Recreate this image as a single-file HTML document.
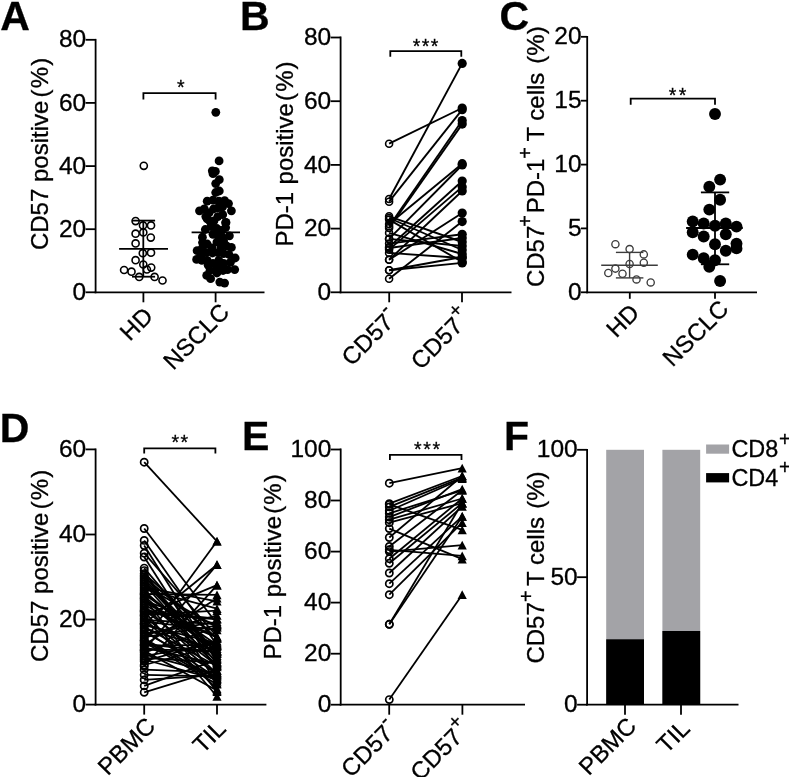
<!DOCTYPE html>
<html><head><meta charset="utf-8"><title>Figure</title>
<style>
html,body{margin:0;padding:0;background:#fff;}
svg{display:block;}
text{font-family:"Liberation Sans",sans-serif;fill:#000;stroke:#000;stroke-width:0.3px;}
</style></head><body>
<svg width="789" height="777" viewBox="0 0 789 777">
<rect width="789" height="777" fill="#fff"/>
<text x="0.2" y="29.9" font-size="41" text-anchor="start" font-weight="bold">A</text>
<text x="240.0" y="29.6" font-size="41" text-anchor="start" font-weight="bold">B</text>
<text x="499.5" y="29.9" font-size="41" text-anchor="start" font-weight="bold">C</text>
<text x="-0.2" y="442.4" font-size="41" text-anchor="start" font-weight="bold">D</text>
<text x="242.0" y="449.7" font-size="41" text-anchor="start" font-weight="bold">E</text>
<text x="504.1" y="449.7" font-size="41" text-anchor="start" font-weight="bold">F</text>
<line x1="95.6" y1="38.9" x2="95.6" y2="293.2" stroke="#000" stroke-width="1.8" stroke-linecap="butt"/>
<line x1="94.7" y1="292.3" x2="264.5" y2="292.3" stroke="#000" stroke-width="1.8" stroke-linecap="butt"/>
<line x1="85.6" y1="292.3" x2="95.6" y2="292.3" stroke="#000" stroke-width="1.8" stroke-linecap="butt"/>
<text x="86.2" y="299.9" font-size="24.5" text-anchor="end" font-weight="normal">0</text>
<line x1="85.6" y1="229.2" x2="95.6" y2="229.2" stroke="#000" stroke-width="1.8" stroke-linecap="butt"/>
<text x="86.2" y="236.7" font-size="24.5" text-anchor="end" font-weight="normal">20</text>
<line x1="85.6" y1="166.1" x2="95.6" y2="166.1" stroke="#000" stroke-width="1.8" stroke-linecap="butt"/>
<text x="86.2" y="173.6" font-size="24.5" text-anchor="end" font-weight="normal">40</text>
<line x1="85.6" y1="102.9" x2="95.6" y2="102.9" stroke="#000" stroke-width="1.8" stroke-linecap="butt"/>
<text x="86.2" y="110.5" font-size="24.5" text-anchor="end" font-weight="normal">60</text>
<line x1="85.6" y1="39.8" x2="95.6" y2="39.8" stroke="#000" stroke-width="1.8" stroke-linecap="butt"/>
<text x="86.2" y="47.4" font-size="24.5" text-anchor="end" font-weight="normal">80</text>
<line x1="143.4" y1="292.3" x2="143.4" y2="302.3" stroke="#000" stroke-width="1.8" stroke-linecap="butt"/>
<line x1="215.6" y1="292.3" x2="215.6" y2="302.3" stroke="#000" stroke-width="1.8" stroke-linecap="butt"/>
<text x="48.0" y="250.1" font-size="24" transform="rotate(-90 48.0 250.1)">CD57</text>
<text x="48.0" y="182.0" font-size="24" transform="rotate(-90 48.0 182.0)">positive</text>
<text x="48.0" y="97.4" font-size="24" transform="rotate(-90 48.0 97.4)" letter-spacing="1.1">(%)</text>
<polyline points="143.4,99.5 143.4,93.2 215.6,93.2 215.6,99.5" fill="none" stroke="#000" stroke-width="1.8"/>
<text x="180.7" y="93.5" font-size="19.5" text-anchor="middle" font-weight="normal" letter-spacing="0" stroke-width="0.5">*</text>
<text x="154.4" y="317.4" font-size="24" text-anchor="end" font-weight="normal" transform="rotate(-45 154.4 317.4)">HD</text>
<text x="230.8" y="313.4" font-size="24" text-anchor="end" font-weight="normal" transform="rotate(-45 230.8 313.4)">NSCLC</text>
<line x1="119.1" y1="248.9" x2="168.0" y2="248.9" stroke="#000" stroke-width="1.8" stroke-linecap="butt"/>
<line x1="143.3" y1="220.6" x2="143.3" y2="276.7" stroke="#000" stroke-width="1.8" stroke-linecap="butt"/>
<line x1="132.0" y1="220.6" x2="155.1" y2="220.6" stroke="#000" stroke-width="1.8" stroke-linecap="butt"/>
<line x1="132.0" y1="276.7" x2="155.1" y2="276.7" stroke="#000" stroke-width="1.8" stroke-linecap="butt"/>
<circle cx="143.8" cy="165.8" r="3.55" fill="none" stroke="#000" stroke-width="1.6"/>
<circle cx="135.6" cy="221.1" r="3.55" fill="none" stroke="#000" stroke-width="1.6"/>
<circle cx="143.0" cy="225.4" r="3.55" fill="none" stroke="#000" stroke-width="1.6"/>
<circle cx="151.0" cy="225.4" r="3.55" fill="none" stroke="#000" stroke-width="1.6"/>
<circle cx="135.6" cy="233.7" r="3.55" fill="none" stroke="#000" stroke-width="1.6"/>
<circle cx="143.3" cy="232.4" r="3.55" fill="none" stroke="#000" stroke-width="1.6"/>
<circle cx="150.8" cy="237.6" r="3.55" fill="none" stroke="#000" stroke-width="1.6"/>
<circle cx="135.6" cy="243.4" r="3.55" fill="none" stroke="#000" stroke-width="1.6"/>
<circle cx="142.8" cy="253.2" r="3.55" fill="none" stroke="#000" stroke-width="1.6"/>
<circle cx="151.0" cy="252.7" r="3.55" fill="none" stroke="#000" stroke-width="1.6"/>
<circle cx="135.6" cy="260.2" r="3.55" fill="none" stroke="#000" stroke-width="1.6"/>
<circle cx="143.3" cy="264.5" r="3.55" fill="none" stroke="#000" stroke-width="1.6"/>
<circle cx="151.2" cy="267.6" r="3.55" fill="none" stroke="#000" stroke-width="1.6"/>
<circle cx="146.9" cy="269.5" r="3.55" fill="none" stroke="#000" stroke-width="1.6"/>
<circle cx="124.1" cy="270.0" r="3.55" fill="none" stroke="#000" stroke-width="1.6"/>
<circle cx="131.5" cy="271.7" r="3.55" fill="none" stroke="#000" stroke-width="1.6"/>
<circle cx="139.2" cy="276.9" r="3.55" fill="none" stroke="#000" stroke-width="1.6"/>
<circle cx="154.6" cy="276.9" r="3.55" fill="none" stroke="#000" stroke-width="1.6"/>
<circle cx="162.5" cy="280.5" r="3.55" fill="none" stroke="#000" stroke-width="1.6"/>
<circle cx="215.8" cy="112.3" r="4.4" fill="#000" stroke="none" stroke-width="0"/>
<circle cx="219.1" cy="160.9" r="4.4" fill="#000" stroke="none" stroke-width="0"/>
<circle cx="212.3" cy="170.8" r="4.4" fill="#000" stroke="none" stroke-width="0"/>
<circle cx="215.4" cy="171.4" r="4.4" fill="#000" stroke="none" stroke-width="0"/>
<circle cx="213.0" cy="173.7" r="4.4" fill="#000" stroke="none" stroke-width="0"/>
<circle cx="219.3" cy="179.7" r="4.4" fill="#000" stroke="none" stroke-width="0"/>
<circle cx="215.7" cy="183.6" r="4.4" fill="#000" stroke="none" stroke-width="0"/>
<circle cx="219.3" cy="191.0" r="4.4" fill="#000" stroke="none" stroke-width="0"/>
<circle cx="215.7" cy="192.5" r="4.4" fill="#000" stroke="none" stroke-width="0"/>
<circle cx="207.2" cy="201.2" r="4.4" fill="#000" stroke="none" stroke-width="0"/>
<circle cx="213.0" cy="200.2" r="4.4" fill="#000" stroke="none" stroke-width="0"/>
<circle cx="218.8" cy="201.2" r="4.4" fill="#000" stroke="none" stroke-width="0"/>
<circle cx="224.6" cy="200.7" r="4.4" fill="#000" stroke="none" stroke-width="0"/>
<circle cx="228.5" cy="203.6" r="4.4" fill="#000" stroke="none" stroke-width="0"/>
<circle cx="231.4" cy="210.8" r="4.4" fill="#000" stroke="none" stroke-width="0"/>
<circle cx="199.5" cy="210.8" r="4.4" fill="#000" stroke="none" stroke-width="0"/>
<circle cx="204.3" cy="208.9" r="4.4" fill="#000" stroke="none" stroke-width="0"/>
<circle cx="217.8" cy="207.9" r="4.4" fill="#000" stroke="none" stroke-width="0"/>
<circle cx="205.8" cy="216.6" r="4.4" fill="#000" stroke="none" stroke-width="0"/>
<circle cx="222.7" cy="214.7" r="4.4" fill="#000" stroke="none" stroke-width="0"/>
<circle cx="217.8" cy="216.6" r="4.4" fill="#000" stroke="none" stroke-width="0"/>
<circle cx="210.1" cy="221.5" r="4.4" fill="#000" stroke="none" stroke-width="0"/>
<circle cx="226.0" cy="222.4" r="4.4" fill="#000" stroke="none" stroke-width="0"/>
<circle cx="225.6" cy="222.7" r="4.4" fill="#000" stroke="none" stroke-width="0"/>
<circle cx="214.0" cy="220.8" r="4.4" fill="#000" stroke="none" stroke-width="0"/>
<circle cx="207.2" cy="218.9" r="4.4" fill="#000" stroke="none" stroke-width="0"/>
<circle cx="205.3" cy="229.5" r="4.4" fill="#000" stroke="none" stroke-width="0"/>
<circle cx="211.1" cy="226.6" r="4.4" fill="#000" stroke="none" stroke-width="0"/>
<circle cx="216.9" cy="228.5" r="4.4" fill="#000" stroke="none" stroke-width="0"/>
<circle cx="225.6" cy="227.6" r="4.4" fill="#000" stroke="none" stroke-width="0"/>
<circle cx="202.4" cy="237.2" r="4.4" fill="#000" stroke="none" stroke-width="0"/>
<circle cx="229.4" cy="235.8" r="4.4" fill="#000" stroke="none" stroke-width="0"/>
<circle cx="218.8" cy="235.3" r="4.4" fill="#000" stroke="none" stroke-width="0"/>
<circle cx="213.0" cy="234.3" r="4.4" fill="#000" stroke="none" stroke-width="0"/>
<circle cx="223.6" cy="241.1" r="4.4" fill="#000" stroke="none" stroke-width="0"/>
<circle cx="216.9" cy="242.0" r="4.4" fill="#000" stroke="none" stroke-width="0"/>
<circle cx="207.2" cy="244.0" r="4.4" fill="#000" stroke="none" stroke-width="0"/>
<circle cx="231.4" cy="247.4" r="4.4" fill="#000" stroke="none" stroke-width="0"/>
<circle cx="226.5" cy="245.9" r="4.4" fill="#000" stroke="none" stroke-width="0"/>
<circle cx="197.1" cy="250.7" r="4.4" fill="#000" stroke="none" stroke-width="0"/>
<circle cx="202.4" cy="247.8" r="4.4" fill="#000" stroke="none" stroke-width="0"/>
<circle cx="212.0" cy="247.8" r="4.4" fill="#000" stroke="none" stroke-width="0"/>
<circle cx="217.8" cy="252.7" r="4.4" fill="#000" stroke="none" stroke-width="0"/>
<circle cx="223.6" cy="253.6" r="4.4" fill="#000" stroke="none" stroke-width="0"/>
<circle cx="206.2" cy="252.7" r="4.4" fill="#000" stroke="none" stroke-width="0"/>
<circle cx="196.6" cy="259.4" r="4.4" fill="#000" stroke="none" stroke-width="0"/>
<circle cx="201.9" cy="260.4" r="4.4" fill="#000" stroke="none" stroke-width="0"/>
<circle cx="207.2" cy="260.4" r="4.4" fill="#000" stroke="none" stroke-width="0"/>
<circle cx="235.2" cy="258.0" r="4.4" fill="#000" stroke="none" stroke-width="0"/>
<circle cx="230.4" cy="262.3" r="4.4" fill="#000" stroke="none" stroke-width="0"/>
<circle cx="218.8" cy="260.4" r="4.4" fill="#000" stroke="none" stroke-width="0"/>
<circle cx="223.6" cy="263.3" r="4.4" fill="#000" stroke="none" stroke-width="0"/>
<circle cx="213.0" cy="263.3" r="4.4" fill="#000" stroke="none" stroke-width="0"/>
<circle cx="208.2" cy="265.2" r="4.4" fill="#000" stroke="none" stroke-width="0"/>
<circle cx="216.9" cy="267.2" r="4.4" fill="#000" stroke="none" stroke-width="0"/>
<circle cx="227.5" cy="269.6" r="4.4" fill="#000" stroke="none" stroke-width="0"/>
<circle cx="234.7" cy="269.6" r="4.4" fill="#000" stroke="none" stroke-width="0"/>
<circle cx="216.9" cy="273.0" r="4.4" fill="#000" stroke="none" stroke-width="0"/>
<circle cx="206.7" cy="275.4" r="4.4" fill="#000" stroke="none" stroke-width="0"/>
<circle cx="210.6" cy="278.7" r="4.4" fill="#000" stroke="none" stroke-width="0"/>
<circle cx="219.8" cy="282.1" r="4.4" fill="#000" stroke="none" stroke-width="0"/>
<circle cx="224.6" cy="283.1" r="4.4" fill="#000" stroke="none" stroke-width="0"/>
<circle cx="209.0" cy="213.0" r="4.4" fill="#000" stroke="none" stroke-width="0"/>
<circle cx="222.0" cy="236.5" r="4.4" fill="#000" stroke="none" stroke-width="0"/>
<circle cx="221.0" cy="247.5" r="4.4" fill="#000" stroke="none" stroke-width="0"/>
<circle cx="229.0" cy="254.5" r="4.4" fill="#000" stroke="none" stroke-width="0"/>
<circle cx="202.5" cy="242.5" r="4.4" fill="#000" stroke="none" stroke-width="0"/>
<circle cx="212.5" cy="253.0" r="4.4" fill="#000" stroke="none" stroke-width="0"/>
<circle cx="221.0" cy="230.5" r="4.4" fill="#000" stroke="none" stroke-width="0"/>
<circle cx="213.5" cy="209.0" r="4.4" fill="#000" stroke="none" stroke-width="0"/>
<circle cx="222.5" cy="207.0" r="4.4" fill="#000" stroke="none" stroke-width="0"/>
<circle cx="201.0" cy="255.5" r="4.4" fill="#000" stroke="none" stroke-width="0"/>
<circle cx="210.0" cy="270.5" r="4.4" fill="#000" stroke="none" stroke-width="0"/>
<circle cx="223.0" cy="270.5" r="4.4" fill="#000" stroke="none" stroke-width="0"/>
<line x1="191.6" y1="232.4" x2="240.0" y2="232.4" stroke="#000" stroke-width="1.8" stroke-linecap="butt"/>
<line x1="340.6" y1="36.6" x2="340.6" y2="293.2" stroke="#000" stroke-width="1.8" stroke-linecap="butt"/>
<line x1="339.7" y1="292.3" x2="511.5" y2="292.3" stroke="#000" stroke-width="1.8" stroke-linecap="butt"/>
<line x1="330.6" y1="292.3" x2="340.6" y2="292.3" stroke="#000" stroke-width="1.8" stroke-linecap="butt"/>
<text x="331.2" y="299.9" font-size="24.5" text-anchor="end" font-weight="normal">0</text>
<line x1="330.6" y1="228.6" x2="340.6" y2="228.6" stroke="#000" stroke-width="1.8" stroke-linecap="butt"/>
<text x="331.2" y="236.2" font-size="24.5" text-anchor="end" font-weight="normal">20</text>
<line x1="330.6" y1="164.9" x2="340.6" y2="164.9" stroke="#000" stroke-width="1.8" stroke-linecap="butt"/>
<text x="331.2" y="172.5" font-size="24.5" text-anchor="end" font-weight="normal">40</text>
<line x1="330.6" y1="101.2" x2="340.6" y2="101.2" stroke="#000" stroke-width="1.8" stroke-linecap="butt"/>
<text x="331.2" y="108.8" font-size="24.5" text-anchor="end" font-weight="normal">60</text>
<line x1="330.6" y1="37.5" x2="340.6" y2="37.5" stroke="#000" stroke-width="1.8" stroke-linecap="butt"/>
<text x="331.2" y="45.0" font-size="24.5" text-anchor="end" font-weight="normal">80</text>
<line x1="389.2" y1="292.3" x2="389.2" y2="302.3" stroke="#000" stroke-width="1.8" stroke-linecap="butt"/>
<line x1="462.0" y1="292.3" x2="462.0" y2="302.3" stroke="#000" stroke-width="1.8" stroke-linecap="butt"/>
<text x="292.9" y="246.6" font-size="24" transform="rotate(-90 292.9 246.6)">PD-1</text>
<text x="292.9" y="184.4" font-size="24" transform="rotate(-90 292.9 184.4)">positive</text>
<text x="292.9" y="100.9" font-size="24" transform="rotate(-90 292.9 100.9)" letter-spacing="1.1">(%)</text>
<polyline points="390.3,56.8 390.3,51.2 461.3,51.2 461.3,56.8" fill="none" stroke="#000" stroke-width="1.8"/>
<text x="426.2" y="52.6" font-size="19.5" text-anchor="middle" font-weight="normal" letter-spacing="1.4" stroke-width="0.5">***</text>
<text x="399.5" y="319.0" font-size="24" text-anchor="end" font-weight="normal" transform="rotate(-45 399.5 319.0)">CD57<tspan font-size="20" dy="-11.6">-</tspan></text>
<text x="472.5" y="319.0" font-size="24" text-anchor="end" font-weight="normal" transform="rotate(-45 472.5 319.0)">CD57<tspan font-size="20" dy="-11.6">+</tspan></text>
<line x1="389.1" y1="143.7" x2="462.2" y2="108.0" stroke="#000" stroke-width="1.9" stroke-linecap="butt"/>
<line x1="389.1" y1="199.0" x2="462.2" y2="63.4" stroke="#000" stroke-width="1.9" stroke-linecap="butt"/>
<line x1="389.1" y1="201.7" x2="462.2" y2="109.7" stroke="#000" stroke-width="1.9" stroke-linecap="butt"/>
<line x1="389.1" y1="226.3" x2="462.2" y2="120.5" stroke="#000" stroke-width="1.9" stroke-linecap="butt"/>
<line x1="389.1" y1="228.0" x2="462.2" y2="124.1" stroke="#000" stroke-width="1.9" stroke-linecap="butt"/>
<line x1="389.1" y1="224.0" x2="462.2" y2="163.7" stroke="#000" stroke-width="1.9" stroke-linecap="butt"/>
<line x1="389.1" y1="238.9" x2="462.2" y2="165.0" stroke="#000" stroke-width="1.9" stroke-linecap="butt"/>
<line x1="389.1" y1="247.0" x2="462.2" y2="181.0" stroke="#000" stroke-width="1.9" stroke-linecap="butt"/>
<line x1="389.1" y1="249.6" x2="462.2" y2="186.9" stroke="#000" stroke-width="1.9" stroke-linecap="butt"/>
<line x1="389.1" y1="259.8" x2="462.2" y2="191.0" stroke="#000" stroke-width="1.9" stroke-linecap="butt"/>
<line x1="389.1" y1="259.8" x2="462.2" y2="213.0" stroke="#000" stroke-width="1.9" stroke-linecap="butt"/>
<line x1="389.1" y1="278.8" x2="462.2" y2="221.6" stroke="#000" stroke-width="1.9" stroke-linecap="butt"/>
<line x1="389.1" y1="243.6" x2="462.2" y2="234.3" stroke="#000" stroke-width="1.9" stroke-linecap="butt"/>
<line x1="389.1" y1="248.0" x2="462.2" y2="238.0" stroke="#000" stroke-width="1.9" stroke-linecap="butt"/>
<line x1="389.1" y1="216.3" x2="462.2" y2="242.0" stroke="#000" stroke-width="1.9" stroke-linecap="butt"/>
<line x1="389.1" y1="238.9" x2="462.2" y2="246.0" stroke="#000" stroke-width="1.9" stroke-linecap="butt"/>
<line x1="389.1" y1="218.0" x2="462.2" y2="250.0" stroke="#000" stroke-width="1.9" stroke-linecap="butt"/>
<line x1="389.1" y1="232.9" x2="462.2" y2="254.0" stroke="#000" stroke-width="1.9" stroke-linecap="butt"/>
<line x1="389.1" y1="252.9" x2="462.2" y2="258.0" stroke="#000" stroke-width="1.9" stroke-linecap="butt"/>
<line x1="389.1" y1="219.6" x2="462.2" y2="262.0" stroke="#000" stroke-width="1.9" stroke-linecap="butt"/>
<line x1="389.1" y1="270.2" x2="462.2" y2="262.9" stroke="#000" stroke-width="1.9" stroke-linecap="butt"/>
<line x1="389.1" y1="270.2" x2="462.2" y2="257.0" stroke="#000" stroke-width="1.9" stroke-linecap="butt"/>
<circle cx="389.1" cy="143.7" r="3.5" fill="none" stroke="#000" stroke-width="1.6"/>
<circle cx="389.1" cy="199.0" r="3.5" fill="none" stroke="#000" stroke-width="1.6"/>
<circle cx="389.1" cy="201.7" r="3.5" fill="none" stroke="#000" stroke-width="1.6"/>
<circle cx="389.1" cy="226.3" r="3.5" fill="none" stroke="#000" stroke-width="1.6"/>
<circle cx="389.1" cy="228.0" r="3.5" fill="none" stroke="#000" stroke-width="1.6"/>
<circle cx="389.1" cy="224.0" r="3.5" fill="none" stroke="#000" stroke-width="1.6"/>
<circle cx="389.1" cy="238.9" r="3.5" fill="none" stroke="#000" stroke-width="1.6"/>
<circle cx="389.1" cy="247.0" r="3.5" fill="none" stroke="#000" stroke-width="1.6"/>
<circle cx="389.1" cy="249.6" r="3.5" fill="none" stroke="#000" stroke-width="1.6"/>
<circle cx="389.1" cy="259.8" r="3.5" fill="none" stroke="#000" stroke-width="1.6"/>
<circle cx="389.1" cy="259.8" r="3.5" fill="none" stroke="#000" stroke-width="1.6"/>
<circle cx="389.1" cy="278.8" r="3.5" fill="none" stroke="#000" stroke-width="1.6"/>
<circle cx="389.1" cy="243.6" r="3.5" fill="none" stroke="#000" stroke-width="1.6"/>
<circle cx="389.1" cy="248.0" r="3.5" fill="none" stroke="#000" stroke-width="1.6"/>
<circle cx="389.1" cy="216.3" r="3.5" fill="none" stroke="#000" stroke-width="1.6"/>
<circle cx="389.1" cy="238.9" r="3.5" fill="none" stroke="#000" stroke-width="1.6"/>
<circle cx="389.1" cy="218.0" r="3.5" fill="none" stroke="#000" stroke-width="1.6"/>
<circle cx="389.1" cy="232.9" r="3.5" fill="none" stroke="#000" stroke-width="1.6"/>
<circle cx="389.1" cy="252.9" r="3.5" fill="none" stroke="#000" stroke-width="1.6"/>
<circle cx="389.1" cy="219.6" r="3.5" fill="none" stroke="#000" stroke-width="1.6"/>
<circle cx="389.1" cy="270.2" r="3.5" fill="none" stroke="#000" stroke-width="1.6"/>
<circle cx="389.1" cy="270.2" r="3.5" fill="none" stroke="#000" stroke-width="1.6"/>
<circle cx="462.2" cy="108.0" r="4.6" fill="#000" stroke="none" stroke-width="0"/>
<circle cx="462.2" cy="63.4" r="4.6" fill="#000" stroke="none" stroke-width="0"/>
<circle cx="462.2" cy="109.7" r="4.6" fill="#000" stroke="none" stroke-width="0"/>
<circle cx="462.2" cy="120.5" r="4.6" fill="#000" stroke="none" stroke-width="0"/>
<circle cx="462.2" cy="124.1" r="4.6" fill="#000" stroke="none" stroke-width="0"/>
<circle cx="462.2" cy="163.7" r="4.6" fill="#000" stroke="none" stroke-width="0"/>
<circle cx="462.2" cy="165.0" r="4.6" fill="#000" stroke="none" stroke-width="0"/>
<circle cx="462.2" cy="181.0" r="4.6" fill="#000" stroke="none" stroke-width="0"/>
<circle cx="462.2" cy="186.9" r="4.6" fill="#000" stroke="none" stroke-width="0"/>
<circle cx="462.2" cy="191.0" r="4.6" fill="#000" stroke="none" stroke-width="0"/>
<circle cx="462.2" cy="213.0" r="4.6" fill="#000" stroke="none" stroke-width="0"/>
<circle cx="462.2" cy="221.6" r="4.6" fill="#000" stroke="none" stroke-width="0"/>
<circle cx="462.2" cy="234.3" r="4.6" fill="#000" stroke="none" stroke-width="0"/>
<circle cx="462.2" cy="238.0" r="4.6" fill="#000" stroke="none" stroke-width="0"/>
<circle cx="462.2" cy="242.0" r="4.6" fill="#000" stroke="none" stroke-width="0"/>
<circle cx="462.2" cy="246.0" r="4.6" fill="#000" stroke="none" stroke-width="0"/>
<circle cx="462.2" cy="250.0" r="4.6" fill="#000" stroke="none" stroke-width="0"/>
<circle cx="462.2" cy="254.0" r="4.6" fill="#000" stroke="none" stroke-width="0"/>
<circle cx="462.2" cy="258.0" r="4.6" fill="#000" stroke="none" stroke-width="0"/>
<circle cx="462.2" cy="262.0" r="4.6" fill="#000" stroke="none" stroke-width="0"/>
<circle cx="462.2" cy="262.9" r="4.6" fill="#000" stroke="none" stroke-width="0"/>
<circle cx="462.2" cy="257.0" r="4.6" fill="#000" stroke="none" stroke-width="0"/>
<line x1="587.2" y1="35.9" x2="587.2" y2="293.2" stroke="#000" stroke-width="1.8" stroke-linecap="butt"/>
<line x1="586.3" y1="292.3" x2="757.0" y2="292.3" stroke="#000" stroke-width="1.8" stroke-linecap="butt"/>
<line x1="581.0" y1="292.3" x2="587.2" y2="292.3" stroke="#000" stroke-width="1.8" stroke-linecap="butt"/>
<text x="581.6" y="299.9" font-size="24.5" text-anchor="end" font-weight="normal">0</text>
<line x1="581.0" y1="228.4" x2="587.2" y2="228.4" stroke="#000" stroke-width="1.8" stroke-linecap="butt"/>
<text x="581.6" y="236.0" font-size="24.5" text-anchor="end" font-weight="normal">5</text>
<line x1="581.0" y1="164.6" x2="587.2" y2="164.6" stroke="#000" stroke-width="1.8" stroke-linecap="butt"/>
<text x="581.6" y="172.1" font-size="24.5" text-anchor="end" font-weight="normal">10</text>
<line x1="581.0" y1="100.7" x2="587.2" y2="100.7" stroke="#000" stroke-width="1.8" stroke-linecap="butt"/>
<text x="581.6" y="108.2" font-size="24.5" text-anchor="end" font-weight="normal">15</text>
<line x1="581.0" y1="36.8" x2="587.2" y2="36.8" stroke="#000" stroke-width="1.8" stroke-linecap="butt"/>
<text x="581.6" y="44.4" font-size="24.5" text-anchor="end" font-weight="normal">20</text>
<line x1="629.8" y1="292.3" x2="629.8" y2="298.8" stroke="#000" stroke-width="1.8" stroke-linecap="butt"/>
<line x1="715.0" y1="292.3" x2="715.0" y2="298.8" stroke="#000" stroke-width="1.8" stroke-linecap="butt"/>
<text x="543.8" y="287.1" font-size="24" transform="rotate(-90 543.8 287.1)">CD57</text>
<text x="543.8" y="213.3" font-size="24" transform="rotate(-90 543.8 213.3)">PD-1</text>
<text x="543.8" y="141.6" font-size="24" transform="rotate(-90 543.8 141.6)">T cells</text>
<text x="543.8" y="63.7" font-size="24" transform="rotate(-90 543.8 63.7)">(%)</text>
<text x="532.2" y="226.7" font-size="20" transform="rotate(-90 532.2 226.7)">+</text>
<text x="532.2" y="158.7" font-size="20" transform="rotate(-90 532.2 158.7)">+</text>
<polyline points="630.7,104.8 630.7,98.7 715.0,98.7 715.0,104.8" fill="none" stroke="#000" stroke-width="1.8"/>
<text x="678.7" y="102.4" font-size="19.5" text-anchor="middle" font-weight="normal" letter-spacing="2.4" stroke-width="0.5">**</text>
<text x="640.7" y="314.2" font-size="24" text-anchor="end" font-weight="normal" transform="rotate(-45 640.7 314.2)">HD</text>
<text x="730.1" y="310.2" font-size="24" text-anchor="end" font-weight="normal" transform="rotate(-45 730.1 310.2)">NSCLC</text>
<line x1="601.2" y1="265.2" x2="657.8" y2="265.2" stroke="#3c3c3c" stroke-width="1.4" stroke-linecap="butt"/>
<line x1="629.6" y1="252.4" x2="629.6" y2="277.9" stroke="#3c3c3c" stroke-width="1.4" stroke-linecap="butt"/>
<line x1="615.9" y1="252.4" x2="643.4" y2="252.4" stroke="#3c3c3c" stroke-width="1.4" stroke-linecap="butt"/>
<line x1="615.9" y1="277.9" x2="643.4" y2="277.9" stroke="#3c3c3c" stroke-width="1.4" stroke-linecap="butt"/>
<circle cx="615.4" cy="244.2" r="3.6" fill="none" stroke="#3c3c3c" stroke-width="1.35"/>
<circle cx="629.6" cy="249.1" r="3.6" fill="none" stroke="#3c3c3c" stroke-width="1.35"/>
<circle cx="643.8" cy="254.4" r="3.6" fill="none" stroke="#3c3c3c" stroke-width="1.35"/>
<circle cx="643.8" cy="262.8" r="3.6" fill="none" stroke="#3c3c3c" stroke-width="1.35"/>
<circle cx="629.6" cy="264.0" r="3.6" fill="none" stroke="#3c3c3c" stroke-width="1.35"/>
<circle cx="615.4" cy="268.6" r="3.6" fill="none" stroke="#3c3c3c" stroke-width="1.35"/>
<circle cx="608.3" cy="273.0" r="3.6" fill="none" stroke="#3c3c3c" stroke-width="1.35"/>
<circle cx="622.5" cy="273.7" r="3.6" fill="none" stroke="#3c3c3c" stroke-width="1.35"/>
<circle cx="636.5" cy="279.4" r="3.6" fill="none" stroke="#3c3c3c" stroke-width="1.35"/>
<circle cx="650.7" cy="282.4" r="3.6" fill="none" stroke="#3c3c3c" stroke-width="1.35"/>
<circle cx="715.0" cy="114.0" r="5.95" fill="#000" stroke="none" stroke-width="0"/>
<circle cx="720.1" cy="179.6" r="5.95" fill="#000" stroke="none" stroke-width="0"/>
<circle cx="709.3" cy="186.7" r="5.95" fill="#000" stroke="none" stroke-width="0"/>
<circle cx="720.1" cy="199.7" r="5.95" fill="#000" stroke="none" stroke-width="0"/>
<circle cx="709.3" cy="209.6" r="5.95" fill="#000" stroke="none" stroke-width="0"/>
<circle cx="692.7" cy="221.5" r="5.95" fill="#000" stroke="none" stroke-width="0"/>
<circle cx="703.7" cy="223.5" r="5.95" fill="#000" stroke="none" stroke-width="0"/>
<circle cx="715.0" cy="225.8" r="5.95" fill="#000" stroke="none" stroke-width="0"/>
<circle cx="725.8" cy="223.5" r="5.95" fill="#000" stroke="none" stroke-width="0"/>
<circle cx="736.5" cy="226.6" r="5.95" fill="#000" stroke="none" stroke-width="0"/>
<circle cx="692.7" cy="232.3" r="5.95" fill="#000" stroke="none" stroke-width="0"/>
<circle cx="703.7" cy="236.5" r="5.95" fill="#000" stroke="none" stroke-width="0"/>
<circle cx="725.8" cy="234.3" r="5.95" fill="#000" stroke="none" stroke-width="0"/>
<circle cx="715.0" cy="244.2" r="5.95" fill="#000" stroke="none" stroke-width="0"/>
<circle cx="736.5" cy="243.6" r="5.95" fill="#000" stroke="none" stroke-width="0"/>
<circle cx="736.5" cy="248.4" r="5.95" fill="#000" stroke="none" stroke-width="0"/>
<circle cx="725.8" cy="250.7" r="5.95" fill="#000" stroke="none" stroke-width="0"/>
<circle cx="692.7" cy="254.6" r="5.95" fill="#000" stroke="none" stroke-width="0"/>
<circle cx="703.7" cy="258.3" r="5.95" fill="#000" stroke="none" stroke-width="0"/>
<circle cx="715.0" cy="260.3" r="5.95" fill="#000" stroke="none" stroke-width="0"/>
<circle cx="709.3" cy="266.8" r="5.95" fill="#000" stroke="none" stroke-width="0"/>
<circle cx="720.1" cy="281.0" r="5.95" fill="#000" stroke="none" stroke-width="0"/>
<line x1="686.1" y1="228.0" x2="742.8" y2="228.0" stroke="#000" stroke-width="1.8" stroke-linecap="butt"/>
<line x1="715.0" y1="192.4" x2="715.0" y2="264.3" stroke="#000" stroke-width="1.8" stroke-linecap="butt"/>
<line x1="700.9" y1="192.4" x2="729.2" y2="192.4" stroke="#000" stroke-width="1.8" stroke-linecap="butt"/>
<line x1="700.9" y1="264.3" x2="729.2" y2="264.3" stroke="#000" stroke-width="1.8" stroke-linecap="butt"/>
<line x1="95.6" y1="448.5" x2="95.6" y2="705.5" stroke="#000" stroke-width="1.8" stroke-linecap="butt"/>
<line x1="94.7" y1="704.6" x2="266.4" y2="704.6" stroke="#000" stroke-width="1.8" stroke-linecap="butt"/>
<line x1="85.6" y1="704.6" x2="95.6" y2="704.6" stroke="#000" stroke-width="1.8" stroke-linecap="butt"/>
<text x="86.2" y="712.1" font-size="24.5" text-anchor="end" font-weight="normal">0</text>
<line x1="85.6" y1="619.5" x2="95.6" y2="619.5" stroke="#000" stroke-width="1.8" stroke-linecap="butt"/>
<text x="86.2" y="627.1" font-size="24.5" text-anchor="end" font-weight="normal">20</text>
<line x1="85.6" y1="534.5" x2="95.6" y2="534.5" stroke="#000" stroke-width="1.8" stroke-linecap="butt"/>
<text x="86.2" y="542.0" font-size="24.5" text-anchor="end" font-weight="normal">40</text>
<line x1="85.6" y1="449.4" x2="95.6" y2="449.4" stroke="#000" stroke-width="1.8" stroke-linecap="butt"/>
<text x="86.2" y="456.9" font-size="24.5" text-anchor="end" font-weight="normal">60</text>
<line x1="144.2" y1="704.6" x2="144.2" y2="714.6" stroke="#000" stroke-width="1.8" stroke-linecap="butt"/>
<line x1="217.0" y1="704.6" x2="217.0" y2="714.6" stroke="#000" stroke-width="1.8" stroke-linecap="butt"/>
<text x="47.8" y="662.0" font-size="24" transform="rotate(-90 47.8 662.0)">CD57</text>
<text x="47.8" y="593.9" font-size="24" transform="rotate(-90 47.8 593.9)">positive</text>
<text x="47.8" y="509.3" font-size="24" transform="rotate(-90 47.8 509.3)" letter-spacing="1.1">(%)</text>
<polyline points="144.2,453.6 144.2,448.4 215.4,448.4 215.4,453.6" fill="none" stroke="#000" stroke-width="1.8"/>
<text x="180.4" y="448.8" font-size="19.5" text-anchor="middle" font-weight="normal" letter-spacing="1.4" stroke-width="0.5">**</text>
<text x="156.8" y="727.4" font-size="24" text-anchor="end" font-weight="normal" transform="rotate(-45 156.8 727.4)">PBMC</text>
<text x="227.2" y="730.0" font-size="24" text-anchor="end" font-weight="normal" transform="rotate(-45 227.2 730.0)">TIL</text>
<line x1="144.2" y1="462.2" x2="217.0" y2="541.3" stroke="#000" stroke-width="1.8" stroke-linecap="butt"/>
<line x1="144.2" y1="528.5" x2="217.0" y2="623.8" stroke="#000" stroke-width="1.8" stroke-linecap="butt"/>
<line x1="144.2" y1="540.4" x2="217.0" y2="645.1" stroke="#000" stroke-width="1.8" stroke-linecap="butt"/>
<line x1="144.2" y1="545.5" x2="217.0" y2="662.1" stroke="#000" stroke-width="1.8" stroke-linecap="butt"/>
<line x1="144.2" y1="553.2" x2="217.0" y2="636.5" stroke="#000" stroke-width="1.8" stroke-linecap="butt"/>
<line x1="144.2" y1="557.0" x2="217.0" y2="670.6" stroke="#000" stroke-width="1.8" stroke-linecap="butt"/>
<line x1="144.2" y1="568.1" x2="217.0" y2="653.6" stroke="#000" stroke-width="1.8" stroke-linecap="butt"/>
<line x1="144.2" y1="570.6" x2="217.0" y2="683.3" stroke="#000" stroke-width="1.8" stroke-linecap="butt"/>
<line x1="144.2" y1="640.8" x2="217.0" y2="541.3" stroke="#000" stroke-width="1.8" stroke-linecap="butt"/>
<line x1="144.2" y1="623.8" x2="217.0" y2="564.7" stroke="#000" stroke-width="1.8" stroke-linecap="butt"/>
<line x1="144.2" y1="650.2" x2="217.0" y2="564.7" stroke="#000" stroke-width="1.8" stroke-linecap="butt"/>
<line x1="144.2" y1="615.3" x2="217.0" y2="585.1" stroke="#000" stroke-width="1.8" stroke-linecap="butt"/>
<line x1="144.2" y1="666.3" x2="217.0" y2="585.1" stroke="#000" stroke-width="1.8" stroke-linecap="butt"/>
<line x1="144.2" y1="594.0" x2="217.0" y2="594.9" stroke="#000" stroke-width="1.8" stroke-linecap="butt"/>
<line x1="144.2" y1="645.1" x2="217.0" y2="598.3" stroke="#000" stroke-width="1.8" stroke-linecap="butt"/>
<line x1="144.2" y1="692.3" x2="217.0" y2="670.1" stroke="#000" stroke-width="1.8" stroke-linecap="butt"/>
<line x1="144.2" y1="685.9" x2="217.0" y2="659.8" stroke="#000" stroke-width="1.8" stroke-linecap="butt"/>
<line x1="144.2" y1="679.9" x2="217.0" y2="675.1" stroke="#000" stroke-width="1.8" stroke-linecap="butt"/>
<line x1="144.2" y1="674.8" x2="217.0" y2="676.4" stroke="#000" stroke-width="1.8" stroke-linecap="butt"/>
<line x1="144.2" y1="669.7" x2="217.0" y2="672.4" stroke="#000" stroke-width="1.8" stroke-linecap="butt"/>
<line x1="144.2" y1="665.0" x2="217.0" y2="645.7" stroke="#000" stroke-width="1.8" stroke-linecap="butt"/>
<line x1="144.2" y1="661.2" x2="217.0" y2="641.2" stroke="#000" stroke-width="1.8" stroke-linecap="butt"/>
<line x1="144.2" y1="659.5" x2="217.0" y2="679.7" stroke="#000" stroke-width="1.8" stroke-linecap="butt"/>
<line x1="144.2" y1="657.8" x2="217.0" y2="662.7" stroke="#000" stroke-width="1.8" stroke-linecap="butt"/>
<line x1="144.2" y1="656.1" x2="217.0" y2="643.0" stroke="#000" stroke-width="1.8" stroke-linecap="butt"/>
<line x1="144.2" y1="654.3" x2="217.0" y2="674.1" stroke="#000" stroke-width="1.8" stroke-linecap="butt"/>
<line x1="144.2" y1="652.6" x2="217.0" y2="627.0" stroke="#000" stroke-width="1.8" stroke-linecap="butt"/>
<line x1="144.2" y1="650.9" x2="217.0" y2="690.5" stroke="#000" stroke-width="1.8" stroke-linecap="butt"/>
<line x1="144.2" y1="649.2" x2="217.0" y2="651.5" stroke="#000" stroke-width="1.8" stroke-linecap="butt"/>
<line x1="144.2" y1="647.5" x2="217.0" y2="664.2" stroke="#000" stroke-width="1.8" stroke-linecap="butt"/>
<line x1="144.2" y1="645.7" x2="217.0" y2="644.8" stroke="#000" stroke-width="1.8" stroke-linecap="butt"/>
<line x1="144.2" y1="644.0" x2="217.0" y2="652.2" stroke="#000" stroke-width="1.8" stroke-linecap="butt"/>
<line x1="144.2" y1="642.3" x2="217.0" y2="684.3" stroke="#000" stroke-width="1.8" stroke-linecap="butt"/>
<line x1="144.2" y1="640.6" x2="217.0" y2="681.1" stroke="#000" stroke-width="1.8" stroke-linecap="butt"/>
<line x1="144.2" y1="638.9" x2="217.0" y2="678.6" stroke="#000" stroke-width="1.8" stroke-linecap="butt"/>
<line x1="144.2" y1="637.2" x2="217.0" y2="625.7" stroke="#000" stroke-width="1.8" stroke-linecap="butt"/>
<line x1="144.2" y1="635.4" x2="217.0" y2="615.4" stroke="#000" stroke-width="1.8" stroke-linecap="butt"/>
<line x1="144.2" y1="633.7" x2="217.0" y2="621.9" stroke="#000" stroke-width="1.8" stroke-linecap="butt"/>
<line x1="144.2" y1="632.0" x2="217.0" y2="672.3" stroke="#000" stroke-width="1.8" stroke-linecap="butt"/>
<line x1="144.2" y1="630.3" x2="217.0" y2="678.0" stroke="#000" stroke-width="1.8" stroke-linecap="butt"/>
<line x1="144.2" y1="628.6" x2="217.0" y2="650.7" stroke="#000" stroke-width="1.8" stroke-linecap="butt"/>
<line x1="144.2" y1="626.9" x2="217.0" y2="666.3" stroke="#000" stroke-width="1.8" stroke-linecap="butt"/>
<line x1="144.2" y1="625.1" x2="217.0" y2="643.1" stroke="#000" stroke-width="1.8" stroke-linecap="butt"/>
<line x1="144.2" y1="623.4" x2="217.0" y2="651.1" stroke="#000" stroke-width="1.8" stroke-linecap="butt"/>
<line x1="144.2" y1="621.7" x2="217.0" y2="629.9" stroke="#000" stroke-width="1.8" stroke-linecap="butt"/>
<line x1="144.2" y1="620.0" x2="217.0" y2="624.2" stroke="#000" stroke-width="1.8" stroke-linecap="butt"/>
<line x1="144.2" y1="618.3" x2="217.0" y2="689.0" stroke="#000" stroke-width="1.8" stroke-linecap="butt"/>
<line x1="144.2" y1="616.5" x2="217.0" y2="675.0" stroke="#000" stroke-width="1.8" stroke-linecap="butt"/>
<line x1="144.2" y1="614.8" x2="217.0" y2="610.7" stroke="#000" stroke-width="1.8" stroke-linecap="butt"/>
<line x1="144.2" y1="613.1" x2="217.0" y2="619.4" stroke="#000" stroke-width="1.8" stroke-linecap="butt"/>
<line x1="144.2" y1="611.4" x2="217.0" y2="618.6" stroke="#000" stroke-width="1.8" stroke-linecap="butt"/>
<line x1="144.2" y1="609.7" x2="217.0" y2="665.5" stroke="#000" stroke-width="1.8" stroke-linecap="butt"/>
<line x1="144.2" y1="608.0" x2="217.0" y2="637.4" stroke="#000" stroke-width="1.8" stroke-linecap="butt"/>
<line x1="144.2" y1="606.2" x2="217.0" y2="673.6" stroke="#000" stroke-width="1.8" stroke-linecap="butt"/>
<line x1="144.2" y1="604.5" x2="217.0" y2="646.7" stroke="#000" stroke-width="1.8" stroke-linecap="butt"/>
<line x1="144.2" y1="602.8" x2="217.0" y2="637.1" stroke="#000" stroke-width="1.8" stroke-linecap="butt"/>
<line x1="144.2" y1="601.1" x2="217.0" y2="624.6" stroke="#000" stroke-width="1.8" stroke-linecap="butt"/>
<line x1="144.2" y1="599.4" x2="217.0" y2="650.9" stroke="#000" stroke-width="1.8" stroke-linecap="butt"/>
<line x1="144.2" y1="597.7" x2="217.0" y2="665.2" stroke="#000" stroke-width="1.8" stroke-linecap="butt"/>
<line x1="144.2" y1="595.9" x2="217.0" y2="661.6" stroke="#000" stroke-width="1.8" stroke-linecap="butt"/>
<line x1="144.2" y1="594.2" x2="217.0" y2="645.1" stroke="#000" stroke-width="1.8" stroke-linecap="butt"/>
<line x1="144.2" y1="592.5" x2="217.0" y2="648.6" stroke="#000" stroke-width="1.8" stroke-linecap="butt"/>
<line x1="144.2" y1="590.8" x2="217.0" y2="655.6" stroke="#000" stroke-width="1.8" stroke-linecap="butt"/>
<line x1="144.2" y1="589.1" x2="217.0" y2="608.7" stroke="#000" stroke-width="1.8" stroke-linecap="butt"/>
<line x1="144.2" y1="587.3" x2="217.0" y2="601.3" stroke="#000" stroke-width="1.8" stroke-linecap="butt"/>
<line x1="144.2" y1="585.6" x2="217.0" y2="627.2" stroke="#000" stroke-width="1.8" stroke-linecap="butt"/>
<line x1="144.2" y1="583.9" x2="217.0" y2="667.0" stroke="#000" stroke-width="1.8" stroke-linecap="butt"/>
<line x1="144.2" y1="582.2" x2="217.0" y2="658.7" stroke="#000" stroke-width="1.8" stroke-linecap="butt"/>
<line x1="144.2" y1="580.5" x2="217.0" y2="657.3" stroke="#000" stroke-width="1.8" stroke-linecap="butt"/>
<line x1="144.2" y1="578.8" x2="217.0" y2="653.1" stroke="#000" stroke-width="1.8" stroke-linecap="butt"/>
<line x1="144.2" y1="577.0" x2="217.0" y2="638.4" stroke="#000" stroke-width="1.8" stroke-linecap="butt"/>
<line x1="144.2" y1="575.3" x2="217.0" y2="663.8" stroke="#000" stroke-width="1.8" stroke-linecap="butt"/>
<line x1="144.2" y1="573.6" x2="217.0" y2="638.5" stroke="#000" stroke-width="1.8" stroke-linecap="butt"/>
<line x1="144.2" y1="611.0" x2="217.0" y2="696.5" stroke="#000" stroke-width="1.8" stroke-linecap="butt"/>
<line x1="144.2" y1="598.3" x2="217.0" y2="691.8" stroke="#000" stroke-width="1.8" stroke-linecap="butt"/>
<circle cx="144.2" cy="462.2" r="3.6" fill="none" stroke="#000" stroke-width="1.7"/>
<circle cx="144.2" cy="528.5" r="3.6" fill="none" stroke="#000" stroke-width="1.7"/>
<circle cx="144.2" cy="540.4" r="3.6" fill="none" stroke="#000" stroke-width="1.7"/>
<circle cx="144.2" cy="545.5" r="3.6" fill="none" stroke="#000" stroke-width="1.7"/>
<circle cx="144.2" cy="553.2" r="3.6" fill="none" stroke="#000" stroke-width="1.7"/>
<circle cx="144.2" cy="557.0" r="3.6" fill="none" stroke="#000" stroke-width="1.7"/>
<circle cx="144.2" cy="568.1" r="3.6" fill="none" stroke="#000" stroke-width="1.7"/>
<circle cx="144.2" cy="570.6" r="3.6" fill="none" stroke="#000" stroke-width="1.7"/>
<circle cx="144.2" cy="640.8" r="3.6" fill="none" stroke="#000" stroke-width="1.7"/>
<circle cx="144.2" cy="623.8" r="3.6" fill="none" stroke="#000" stroke-width="1.7"/>
<circle cx="144.2" cy="650.2" r="3.6" fill="none" stroke="#000" stroke-width="1.7"/>
<circle cx="144.2" cy="615.3" r="3.6" fill="none" stroke="#000" stroke-width="1.7"/>
<circle cx="144.2" cy="666.3" r="3.6" fill="none" stroke="#000" stroke-width="1.7"/>
<circle cx="144.2" cy="594.0" r="3.6" fill="none" stroke="#000" stroke-width="1.7"/>
<circle cx="144.2" cy="645.1" r="3.6" fill="none" stroke="#000" stroke-width="1.7"/>
<circle cx="144.2" cy="692.3" r="3.6" fill="none" stroke="#000" stroke-width="1.7"/>
<circle cx="144.2" cy="685.9" r="3.6" fill="none" stroke="#000" stroke-width="1.7"/>
<circle cx="144.2" cy="679.9" r="3.6" fill="none" stroke="#000" stroke-width="1.7"/>
<circle cx="144.2" cy="674.8" r="3.6" fill="none" stroke="#000" stroke-width="1.7"/>
<circle cx="144.2" cy="669.7" r="3.6" fill="none" stroke="#000" stroke-width="1.7"/>
<circle cx="144.2" cy="665.0" r="3.6" fill="none" stroke="#000" stroke-width="1.7"/>
<circle cx="144.2" cy="661.2" r="3.6" fill="none" stroke="#000" stroke-width="1.7"/>
<circle cx="144.2" cy="659.5" r="3.6" fill="none" stroke="#000" stroke-width="1.7"/>
<circle cx="144.2" cy="657.8" r="3.6" fill="none" stroke="#000" stroke-width="1.7"/>
<circle cx="144.2" cy="656.1" r="3.6" fill="none" stroke="#000" stroke-width="1.7"/>
<circle cx="144.2" cy="654.3" r="3.6" fill="none" stroke="#000" stroke-width="1.7"/>
<circle cx="144.2" cy="652.6" r="3.6" fill="none" stroke="#000" stroke-width="1.7"/>
<circle cx="144.2" cy="650.9" r="3.6" fill="none" stroke="#000" stroke-width="1.7"/>
<circle cx="144.2" cy="649.2" r="3.6" fill="none" stroke="#000" stroke-width="1.7"/>
<circle cx="144.2" cy="647.5" r="3.6" fill="none" stroke="#000" stroke-width="1.7"/>
<circle cx="144.2" cy="645.7" r="3.6" fill="none" stroke="#000" stroke-width="1.7"/>
<circle cx="144.2" cy="644.0" r="3.6" fill="none" stroke="#000" stroke-width="1.7"/>
<circle cx="144.2" cy="642.3" r="3.6" fill="none" stroke="#000" stroke-width="1.7"/>
<circle cx="144.2" cy="640.6" r="3.6" fill="none" stroke="#000" stroke-width="1.7"/>
<circle cx="144.2" cy="638.9" r="3.6" fill="none" stroke="#000" stroke-width="1.7"/>
<circle cx="144.2" cy="637.2" r="3.6" fill="none" stroke="#000" stroke-width="1.7"/>
<circle cx="144.2" cy="635.4" r="3.6" fill="none" stroke="#000" stroke-width="1.7"/>
<circle cx="144.2" cy="633.7" r="3.6" fill="none" stroke="#000" stroke-width="1.7"/>
<circle cx="144.2" cy="632.0" r="3.6" fill="none" stroke="#000" stroke-width="1.7"/>
<circle cx="144.2" cy="630.3" r="3.6" fill="none" stroke="#000" stroke-width="1.7"/>
<circle cx="144.2" cy="628.6" r="3.6" fill="none" stroke="#000" stroke-width="1.7"/>
<circle cx="144.2" cy="626.9" r="3.6" fill="none" stroke="#000" stroke-width="1.7"/>
<circle cx="144.2" cy="625.1" r="3.6" fill="none" stroke="#000" stroke-width="1.7"/>
<circle cx="144.2" cy="623.4" r="3.6" fill="none" stroke="#000" stroke-width="1.7"/>
<circle cx="144.2" cy="621.7" r="3.6" fill="none" stroke="#000" stroke-width="1.7"/>
<circle cx="144.2" cy="620.0" r="3.6" fill="none" stroke="#000" stroke-width="1.7"/>
<circle cx="144.2" cy="618.3" r="3.6" fill="none" stroke="#000" stroke-width="1.7"/>
<circle cx="144.2" cy="616.5" r="3.6" fill="none" stroke="#000" stroke-width="1.7"/>
<circle cx="144.2" cy="614.8" r="3.6" fill="none" stroke="#000" stroke-width="1.7"/>
<circle cx="144.2" cy="613.1" r="3.6" fill="none" stroke="#000" stroke-width="1.7"/>
<circle cx="144.2" cy="611.4" r="3.6" fill="none" stroke="#000" stroke-width="1.7"/>
<circle cx="144.2" cy="609.7" r="3.6" fill="none" stroke="#000" stroke-width="1.7"/>
<circle cx="144.2" cy="608.0" r="3.6" fill="none" stroke="#000" stroke-width="1.7"/>
<circle cx="144.2" cy="606.2" r="3.6" fill="none" stroke="#000" stroke-width="1.7"/>
<circle cx="144.2" cy="604.5" r="3.6" fill="none" stroke="#000" stroke-width="1.7"/>
<circle cx="144.2" cy="602.8" r="3.6" fill="none" stroke="#000" stroke-width="1.7"/>
<circle cx="144.2" cy="601.1" r="3.6" fill="none" stroke="#000" stroke-width="1.7"/>
<circle cx="144.2" cy="599.4" r="3.6" fill="none" stroke="#000" stroke-width="1.7"/>
<circle cx="144.2" cy="597.7" r="3.6" fill="none" stroke="#000" stroke-width="1.7"/>
<circle cx="144.2" cy="595.9" r="3.6" fill="none" stroke="#000" stroke-width="1.7"/>
<circle cx="144.2" cy="594.2" r="3.6" fill="none" stroke="#000" stroke-width="1.7"/>
<circle cx="144.2" cy="592.5" r="3.6" fill="none" stroke="#000" stroke-width="1.7"/>
<circle cx="144.2" cy="590.8" r="3.6" fill="none" stroke="#000" stroke-width="1.7"/>
<circle cx="144.2" cy="589.1" r="3.6" fill="none" stroke="#000" stroke-width="1.7"/>
<circle cx="144.2" cy="587.3" r="3.6" fill="none" stroke="#000" stroke-width="1.7"/>
<circle cx="144.2" cy="585.6" r="3.6" fill="none" stroke="#000" stroke-width="1.7"/>
<circle cx="144.2" cy="583.9" r="3.6" fill="none" stroke="#000" stroke-width="1.7"/>
<circle cx="144.2" cy="582.2" r="3.6" fill="none" stroke="#000" stroke-width="1.7"/>
<circle cx="144.2" cy="580.5" r="3.6" fill="none" stroke="#000" stroke-width="1.7"/>
<circle cx="144.2" cy="578.8" r="3.6" fill="none" stroke="#000" stroke-width="1.7"/>
<circle cx="144.2" cy="577.0" r="3.6" fill="none" stroke="#000" stroke-width="1.7"/>
<circle cx="144.2" cy="575.3" r="3.6" fill="none" stroke="#000" stroke-width="1.7"/>
<circle cx="144.2" cy="573.6" r="3.6" fill="none" stroke="#000" stroke-width="1.7"/>
<circle cx="144.2" cy="611.0" r="3.6" fill="none" stroke="#000" stroke-width="1.7"/>
<circle cx="144.2" cy="598.3" r="3.6" fill="none" stroke="#000" stroke-width="1.7"/>
<polygon points="217.0,536.9 212.4,545.6 221.6,545.6" fill="#000"/>
<polygon points="217.0,619.4 212.4,628.1 221.6,628.1" fill="#000"/>
<polygon points="217.0,640.7 212.4,649.4 221.6,649.4" fill="#000"/>
<polygon points="217.0,657.7 212.4,666.4 221.6,666.4" fill="#000"/>
<polygon points="217.0,632.1 212.4,640.8 221.6,640.8" fill="#000"/>
<polygon points="217.0,666.2 212.4,674.9 221.6,674.9" fill="#000"/>
<polygon points="217.0,649.2 212.4,657.9 221.6,657.9" fill="#000"/>
<polygon points="217.0,678.9 212.4,687.6 221.6,687.6" fill="#000"/>
<polygon points="217.0,536.9 212.4,545.6 221.6,545.6" fill="#000"/>
<polygon points="217.0,560.3 212.4,569.0 221.6,569.0" fill="#000"/>
<polygon points="217.0,560.3 212.4,569.0 221.6,569.0" fill="#000"/>
<polygon points="217.0,580.7 212.4,589.4 221.6,589.4" fill="#000"/>
<polygon points="217.0,580.7 212.4,589.4 221.6,589.4" fill="#000"/>
<polygon points="217.0,590.5 212.4,599.2 221.6,599.2" fill="#000"/>
<polygon points="217.0,593.9 212.4,602.6 221.6,602.6" fill="#000"/>
<polygon points="217.0,665.7 212.4,674.4 221.6,674.4" fill="#000"/>
<polygon points="217.0,655.4 212.4,664.1 221.6,664.1" fill="#000"/>
<polygon points="217.0,670.7 212.4,679.4 221.6,679.4" fill="#000"/>
<polygon points="217.0,672.0 212.4,680.7 221.6,680.7" fill="#000"/>
<polygon points="217.0,668.0 212.4,676.7 221.6,676.7" fill="#000"/>
<polygon points="217.0,641.3 212.4,650.0 221.6,650.0" fill="#000"/>
<polygon points="217.0,636.8 212.4,645.5 221.6,645.5" fill="#000"/>
<polygon points="217.0,675.3 212.4,684.0 221.6,684.0" fill="#000"/>
<polygon points="217.0,658.3 212.4,667.0 221.6,667.0" fill="#000"/>
<polygon points="217.0,638.6 212.4,647.3 221.6,647.3" fill="#000"/>
<polygon points="217.0,669.7 212.4,678.4 221.6,678.4" fill="#000"/>
<polygon points="217.0,622.6 212.4,631.3 221.6,631.3" fill="#000"/>
<polygon points="217.0,686.1 212.4,694.8 221.6,694.8" fill="#000"/>
<polygon points="217.0,647.1 212.4,655.8 221.6,655.8" fill="#000"/>
<polygon points="217.0,659.8 212.4,668.5 221.6,668.5" fill="#000"/>
<polygon points="217.0,640.4 212.4,649.1 221.6,649.1" fill="#000"/>
<polygon points="217.0,647.8 212.4,656.5 221.6,656.5" fill="#000"/>
<polygon points="217.0,679.9 212.4,688.6 221.6,688.6" fill="#000"/>
<polygon points="217.0,676.7 212.4,685.4 221.6,685.4" fill="#000"/>
<polygon points="217.0,674.2 212.4,682.9 221.6,682.9" fill="#000"/>
<polygon points="217.0,621.3 212.4,630.0 221.6,630.0" fill="#000"/>
<polygon points="217.0,611.0 212.4,619.7 221.6,619.7" fill="#000"/>
<polygon points="217.0,617.5 212.4,626.2 221.6,626.2" fill="#000"/>
<polygon points="217.0,667.9 212.4,676.6 221.6,676.6" fill="#000"/>
<polygon points="217.0,673.6 212.4,682.3 221.6,682.3" fill="#000"/>
<polygon points="217.0,646.3 212.4,655.0 221.6,655.0" fill="#000"/>
<polygon points="217.0,661.9 212.4,670.6 221.6,670.6" fill="#000"/>
<polygon points="217.0,638.7 212.4,647.4 221.6,647.4" fill="#000"/>
<polygon points="217.0,646.7 212.4,655.4 221.6,655.4" fill="#000"/>
<polygon points="217.0,625.5 212.4,634.2 221.6,634.2" fill="#000"/>
<polygon points="217.0,619.8 212.4,628.5 221.6,628.5" fill="#000"/>
<polygon points="217.0,684.6 212.4,693.3 221.6,693.3" fill="#000"/>
<polygon points="217.0,670.6 212.4,679.3 221.6,679.3" fill="#000"/>
<polygon points="217.0,606.3 212.4,615.0 221.6,615.0" fill="#000"/>
<polygon points="217.0,615.0 212.4,623.7 221.6,623.7" fill="#000"/>
<polygon points="217.0,614.2 212.4,622.9 221.6,622.9" fill="#000"/>
<polygon points="217.0,661.1 212.4,669.8 221.6,669.8" fill="#000"/>
<polygon points="217.0,633.0 212.4,641.7 221.6,641.7" fill="#000"/>
<polygon points="217.0,669.2 212.4,677.9 221.6,677.9" fill="#000"/>
<polygon points="217.0,642.3 212.4,651.0 221.6,651.0" fill="#000"/>
<polygon points="217.0,632.7 212.4,641.4 221.6,641.4" fill="#000"/>
<polygon points="217.0,620.2 212.4,628.9 221.6,628.9" fill="#000"/>
<polygon points="217.0,646.5 212.4,655.2 221.6,655.2" fill="#000"/>
<polygon points="217.0,660.8 212.4,669.5 221.6,669.5" fill="#000"/>
<polygon points="217.0,657.2 212.4,665.9 221.6,665.9" fill="#000"/>
<polygon points="217.0,640.7 212.4,649.4 221.6,649.4" fill="#000"/>
<polygon points="217.0,644.2 212.4,652.9 221.6,652.9" fill="#000"/>
<polygon points="217.0,651.2 212.4,659.9 221.6,659.9" fill="#000"/>
<polygon points="217.0,604.3 212.4,613.0 221.6,613.0" fill="#000"/>
<polygon points="217.0,596.9 212.4,605.6 221.6,605.6" fill="#000"/>
<polygon points="217.0,622.8 212.4,631.5 221.6,631.5" fill="#000"/>
<polygon points="217.0,662.6 212.4,671.3 221.6,671.3" fill="#000"/>
<polygon points="217.0,654.3 212.4,663.0 221.6,663.0" fill="#000"/>
<polygon points="217.0,652.9 212.4,661.6 221.6,661.6" fill="#000"/>
<polygon points="217.0,648.7 212.4,657.4 221.6,657.4" fill="#000"/>
<polygon points="217.0,634.0 212.4,642.7 221.6,642.7" fill="#000"/>
<polygon points="217.0,659.4 212.4,668.1 221.6,668.1" fill="#000"/>
<polygon points="217.0,634.1 212.4,642.8 221.6,642.8" fill="#000"/>
<polygon points="217.0,692.1 212.4,700.8 221.6,700.8" fill="#000"/>
<polygon points="217.0,687.4 212.4,696.1 221.6,696.1" fill="#000"/>
<line x1="340.7" y1="448.6" x2="340.7" y2="705.6" stroke="#000" stroke-width="1.8" stroke-linecap="butt"/>
<line x1="339.8" y1="704.7" x2="525.0" y2="704.7" stroke="#000" stroke-width="1.8" stroke-linecap="butt"/>
<line x1="330.7" y1="704.7" x2="340.7" y2="704.7" stroke="#000" stroke-width="1.8" stroke-linecap="butt"/>
<text x="331.3" y="712.2" font-size="24.5" text-anchor="end" font-weight="normal">0</text>
<line x1="330.7" y1="653.7" x2="340.7" y2="653.7" stroke="#000" stroke-width="1.8" stroke-linecap="butt"/>
<text x="331.3" y="661.2" font-size="24.5" text-anchor="end" font-weight="normal">20</text>
<line x1="330.7" y1="602.6" x2="340.7" y2="602.6" stroke="#000" stroke-width="1.8" stroke-linecap="butt"/>
<text x="331.3" y="610.2" font-size="24.5" text-anchor="end" font-weight="normal">40</text>
<line x1="330.7" y1="551.6" x2="340.7" y2="551.6" stroke="#000" stroke-width="1.8" stroke-linecap="butt"/>
<text x="331.3" y="559.1" font-size="24.5" text-anchor="end" font-weight="normal">60</text>
<line x1="330.7" y1="500.5" x2="340.7" y2="500.5" stroke="#000" stroke-width="1.8" stroke-linecap="butt"/>
<text x="331.3" y="508.1" font-size="24.5" text-anchor="end" font-weight="normal">80</text>
<line x1="330.7" y1="449.5" x2="340.7" y2="449.5" stroke="#000" stroke-width="1.8" stroke-linecap="butt"/>
<text x="331.3" y="457.1" font-size="24.5" text-anchor="end" font-weight="normal">100</text>
<line x1="389.2" y1="704.7" x2="389.2" y2="714.7" stroke="#000" stroke-width="1.8" stroke-linecap="butt"/>
<line x1="462.4" y1="704.7" x2="462.4" y2="714.7" stroke="#000" stroke-width="1.8" stroke-linecap="butt"/>
<text x="281.2" y="659.5" font-size="24" transform="rotate(-90 281.2 659.5)">PD-1</text>
<text x="281.2" y="597.3" font-size="24" transform="rotate(-90 281.2 597.3)">positive</text>
<text x="281.2" y="513.8" font-size="24" transform="rotate(-90 281.2 513.8)" letter-spacing="1.1">(%)</text>
<polyline points="389.9,460.0 389.9,454.8 461.5,454.8 461.5,460.0" fill="none" stroke="#000" stroke-width="1.8"/>
<text x="427.9" y="455.6" font-size="19.5" text-anchor="middle" font-weight="normal" letter-spacing="1.6" stroke-width="0.5">***</text>
<text x="399.0" y="730.4" font-size="24" text-anchor="end" font-weight="normal" transform="rotate(-45 399.0 730.4)">CD57<tspan font-size="20" dy="-11.6">-</tspan></text>
<text x="472.0" y="730.4" font-size="24" text-anchor="end" font-weight="normal" transform="rotate(-45 472.0 730.4)">CD57<tspan font-size="20" dy="-11.6">+</tspan></text>
<line x1="389.3" y1="483.2" x2="462.2" y2="468.1" stroke="#000" stroke-width="1.8" stroke-linecap="butt"/>
<line x1="389.3" y1="503.6" x2="462.2" y2="476.0" stroke="#000" stroke-width="1.8" stroke-linecap="butt"/>
<line x1="389.3" y1="506.9" x2="462.2" y2="477.6" stroke="#000" stroke-width="1.8" stroke-linecap="butt"/>
<line x1="389.3" y1="510.7" x2="462.2" y2="478.8" stroke="#000" stroke-width="1.8" stroke-linecap="butt"/>
<line x1="389.3" y1="513.3" x2="462.2" y2="490.3" stroke="#000" stroke-width="1.8" stroke-linecap="butt"/>
<line x1="389.3" y1="517.1" x2="462.2" y2="489.1" stroke="#000" stroke-width="1.8" stroke-linecap="butt"/>
<line x1="389.3" y1="519.7" x2="462.2" y2="498.5" stroke="#000" stroke-width="1.8" stroke-linecap="butt"/>
<line x1="389.3" y1="522.7" x2="462.2" y2="503.1" stroke="#000" stroke-width="1.8" stroke-linecap="butt"/>
<line x1="389.3" y1="504.4" x2="462.2" y2="529.9" stroke="#000" stroke-width="1.8" stroke-linecap="butt"/>
<line x1="389.3" y1="528.6" x2="462.2" y2="559.2" stroke="#000" stroke-width="1.8" stroke-linecap="butt"/>
<line x1="389.3" y1="537.5" x2="462.2" y2="476.0" stroke="#000" stroke-width="1.8" stroke-linecap="butt"/>
<line x1="389.3" y1="546.5" x2="462.2" y2="490.3" stroke="#000" stroke-width="1.8" stroke-linecap="butt"/>
<line x1="389.3" y1="549.8" x2="462.2" y2="555.9" stroke="#000" stroke-width="1.8" stroke-linecap="butt"/>
<line x1="389.3" y1="551.6" x2="462.2" y2="545.2" stroke="#000" stroke-width="1.8" stroke-linecap="butt"/>
<line x1="389.3" y1="558.7" x2="462.2" y2="498.5" stroke="#000" stroke-width="1.8" stroke-linecap="butt"/>
<line x1="389.3" y1="563.3" x2="462.2" y2="503.1" stroke="#000" stroke-width="1.8" stroke-linecap="butt"/>
<line x1="389.3" y1="573.0" x2="462.2" y2="506.4" stroke="#000" stroke-width="1.8" stroke-linecap="butt"/>
<line x1="389.3" y1="583.7" x2="462.2" y2="516.4" stroke="#000" stroke-width="1.8" stroke-linecap="butt"/>
<line x1="389.3" y1="594.7" x2="462.2" y2="522.7" stroke="#000" stroke-width="1.8" stroke-linecap="butt"/>
<line x1="389.3" y1="624.3" x2="462.2" y2="503.1" stroke="#000" stroke-width="1.8" stroke-linecap="butt"/>
<line x1="389.3" y1="624.3" x2="462.2" y2="516.4" stroke="#000" stroke-width="1.8" stroke-linecap="butt"/>
<line x1="389.3" y1="699.6" x2="462.2" y2="594.7" stroke="#000" stroke-width="1.8" stroke-linecap="butt"/>
<circle cx="389.3" cy="483.2" r="3.6" fill="none" stroke="#000" stroke-width="1.7"/>
<circle cx="389.3" cy="503.6" r="3.6" fill="none" stroke="#000" stroke-width="1.7"/>
<circle cx="389.3" cy="506.9" r="3.6" fill="none" stroke="#000" stroke-width="1.7"/>
<circle cx="389.3" cy="510.7" r="3.6" fill="none" stroke="#000" stroke-width="1.7"/>
<circle cx="389.3" cy="513.3" r="3.6" fill="none" stroke="#000" stroke-width="1.7"/>
<circle cx="389.3" cy="517.1" r="3.6" fill="none" stroke="#000" stroke-width="1.7"/>
<circle cx="389.3" cy="519.7" r="3.6" fill="none" stroke="#000" stroke-width="1.7"/>
<circle cx="389.3" cy="522.7" r="3.6" fill="none" stroke="#000" stroke-width="1.7"/>
<circle cx="389.3" cy="504.4" r="3.6" fill="none" stroke="#000" stroke-width="1.7"/>
<circle cx="389.3" cy="528.6" r="3.6" fill="none" stroke="#000" stroke-width="1.7"/>
<circle cx="389.3" cy="537.5" r="3.6" fill="none" stroke="#000" stroke-width="1.7"/>
<circle cx="389.3" cy="546.5" r="3.6" fill="none" stroke="#000" stroke-width="1.7"/>
<circle cx="389.3" cy="549.8" r="3.6" fill="none" stroke="#000" stroke-width="1.7"/>
<circle cx="389.3" cy="551.6" r="3.6" fill="none" stroke="#000" stroke-width="1.7"/>
<circle cx="389.3" cy="558.7" r="3.6" fill="none" stroke="#000" stroke-width="1.7"/>
<circle cx="389.3" cy="563.3" r="3.6" fill="none" stroke="#000" stroke-width="1.7"/>
<circle cx="389.3" cy="573.0" r="3.6" fill="none" stroke="#000" stroke-width="1.7"/>
<circle cx="389.3" cy="583.7" r="3.6" fill="none" stroke="#000" stroke-width="1.7"/>
<circle cx="389.3" cy="594.7" r="3.6" fill="none" stroke="#000" stroke-width="1.7"/>
<circle cx="389.3" cy="624.3" r="3.6" fill="none" stroke="#000" stroke-width="1.7"/>
<circle cx="389.3" cy="624.3" r="3.6" fill="none" stroke="#000" stroke-width="1.7"/>
<circle cx="389.3" cy="699.6" r="3.6" fill="none" stroke="#000" stroke-width="1.7"/>
<polygon points="462.2,463.7 457.6,472.4 466.8,472.4" fill="#000"/>
<polygon points="462.2,471.6 457.6,480.3 466.8,480.3" fill="#000"/>
<polygon points="462.2,473.2 457.6,481.9 466.8,481.9" fill="#000"/>
<polygon points="462.2,474.4 457.6,483.1 466.8,483.1" fill="#000"/>
<polygon points="462.2,485.9 457.6,494.6 466.8,494.6" fill="#000"/>
<polygon points="462.2,484.7 457.6,493.4 466.8,493.4" fill="#000"/>
<polygon points="462.2,494.1 457.6,502.8 466.8,502.8" fill="#000"/>
<polygon points="462.2,498.7 457.6,507.4 466.8,507.4" fill="#000"/>
<polygon points="462.2,525.5 457.6,534.2 466.8,534.2" fill="#000"/>
<polygon points="462.2,554.8 457.6,563.5 466.8,563.5" fill="#000"/>
<polygon points="462.2,471.6 457.6,480.3 466.8,480.3" fill="#000"/>
<polygon points="462.2,485.9 457.6,494.6 466.8,494.6" fill="#000"/>
<polygon points="462.2,551.5 457.6,560.2 466.8,560.2" fill="#000"/>
<polygon points="462.2,540.8 457.6,549.5 466.8,549.5" fill="#000"/>
<polygon points="462.2,494.1 457.6,502.8 466.8,502.8" fill="#000"/>
<polygon points="462.2,498.7 457.6,507.4 466.8,507.4" fill="#000"/>
<polygon points="462.2,502.0 457.6,510.7 466.8,510.7" fill="#000"/>
<polygon points="462.2,512.0 457.6,520.7 466.8,520.7" fill="#000"/>
<polygon points="462.2,518.3 457.6,527.0 466.8,527.0" fill="#000"/>
<polygon points="462.2,498.7 457.6,507.4 466.8,507.4" fill="#000"/>
<polygon points="462.2,512.0 457.6,520.7 466.8,520.7" fill="#000"/>
<polygon points="462.2,590.3 457.6,599.0 466.8,599.0" fill="#000"/>
<rect x="606.2" y="449.8" width="37.8" height="254.9" fill="#a3a3a7"/>
<rect x="662.4" y="449.8" width="37.8" height="254.9" fill="#a3a3a7"/>
<rect x="606.2" y="639.3" width="37.8" height="65.4" fill="#000"/>
<rect x="662.4" y="631" width="37.8" height="73.7" fill="#000"/>
<line x1="587.1" y1="448.9" x2="587.1" y2="705.6" stroke="#000" stroke-width="1.8" stroke-linecap="butt"/>
<line x1="586.2" y1="704.7" x2="738.5" y2="704.7" stroke="#000" stroke-width="1.8" stroke-linecap="butt"/>
<line x1="577.1" y1="704.7" x2="587.1" y2="704.7" stroke="#000" stroke-width="1.8" stroke-linecap="butt"/>
<text x="577.7" y="712.2" font-size="24.5" text-anchor="end" font-weight="normal">0</text>
<line x1="577.1" y1="577.2" x2="587.1" y2="577.2" stroke="#000" stroke-width="1.8" stroke-linecap="butt"/>
<text x="577.7" y="584.8" font-size="24.5" text-anchor="end" font-weight="normal">50</text>
<line x1="577.1" y1="449.8" x2="587.1" y2="449.8" stroke="#000" stroke-width="1.8" stroke-linecap="butt"/>
<text x="577.7" y="457.4" font-size="24.5" text-anchor="end" font-weight="normal">100</text>
<line x1="625.0" y1="704.7" x2="625.0" y2="714.7" stroke="#000" stroke-width="1.8" stroke-linecap="butt"/>
<line x1="681.0" y1="704.7" x2="681.0" y2="714.7" stroke="#000" stroke-width="1.8" stroke-linecap="butt"/>
<text x="544.4" y="663.6" font-size="24" transform="rotate(-90 544.4 663.6)">CD57</text>
<text x="544.4" y="585.9" font-size="24" transform="rotate(-90 544.4 585.9)">T cells</text>
<text x="544.4" y="508.7" font-size="24" transform="rotate(-90 544.4 508.7)">(%)</text>
<text x="532.6" y="602.1" font-size="20" transform="rotate(-90 532.6 602.1)">+</text>
<text x="637.7" y="727.4" font-size="24" text-anchor="end" font-weight="normal" transform="rotate(-45 637.7 727.4)">PBMC</text>
<text x="691.1" y="730.0" font-size="24" text-anchor="end" font-weight="normal" transform="rotate(-45 691.1 730.0)">TIL</text>
<rect x="706.1" y="444.5" width="23" height="9.2" fill="#a3a3a7"/>
<rect x="706.1" y="473.1" width="23" height="9.3" fill="#000"/>
<text x="731.4" y="457.2" font-size="23.4" text-anchor="start" font-weight="normal">CD8<tspan font-size="20" dy="-11.6" dx="0.8">+</tspan></text>
<text x="731.4" y="485.6" font-size="23.4" text-anchor="start" font-weight="normal">CD4<tspan font-size="20" dy="-11.6" dx="0.8">+</tspan></text>
</svg>
</body></html>
